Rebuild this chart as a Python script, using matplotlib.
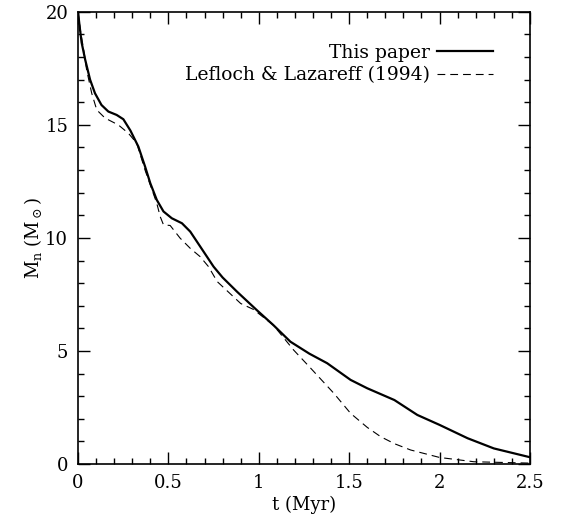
import matplotlib
matplotlib.use('Agg')
import matplotlib.pyplot as plt
from matplotlib.ticker import MultipleLocator

plt.rcParams['font.family'] = 'DejaVu Serif'
plt.rcParams['mathtext.fontset'] = 'dejavuserif'

# this paper (solid)
t_paper = [0, 0.01, 0.02, 0.04, 0.067, 0.094, 0.13, 0.168, 0.214, 0.251, 0.29,
           0.334, 0.371, 0.4, 0.436, 0.473, 0.519, 0.575, 0.621, 0.676, 0.75,
           0.8, 0.88, 0.99, 1.08, 1.175, 1.28, 1.378, 1.45, 1.508, 1.6, 1.75,
           1.877, 2.0, 2.155, 2.3, 2.5]
m_paper = [20, 19.3, 18.65, 17.88, 17.0, 16.4, 15.88, 15.59, 15.44, 15.25,
           14.75, 14.04, 13.16, 12.42, 11.68, 11.17, 10.87, 10.65, 10.28, 9.62,
           8.73, 8.25, 7.62, 6.8, 6.15, 5.41, 4.88, 4.46, 4.05, 3.72, 3.35,
           2.83, 2.17, 1.73, 1.14, 0.69, 0.3]

# Lefloch & Lazareff (1994) (dashed)
t_ll = [0, 0.015, 0.03, 0.048, 0.076, 0.104, 0.15, 0.223, 0.279, 0.325, 0.371,
        0.436, 0.455, 0.473, 0.51, 0.565, 0.621, 0.676, 0.722, 0.77, 0.9,
        0.97, 1.08, 1.193, 1.28, 1.415, 1.508, 1.6, 1.674, 1.75, 1.84, 2.0,
        2.19, 2.5]
m_ll = [20, 19.1, 18.4, 17.43, 16.4, 15.66, 15.3, 15.0, 14.63, 14.19, 13.0,
        11.53, 10.94, 10.58, 10.55, 9.99, 9.54, 9.17, 8.73, 8.07, 7.1, 6.84,
        6.15, 5.04, 4.3, 3.13, 2.24, 1.62, 1.21, 0.9, 0.62, 0.29, 0.1, 0.04]

fig = plt.figure(figsize=(5.65, 5.15), dpi=100)
ax = fig.add_axes([0.138, 0.099, 0.8, 0.878])

ax.plot(t_paper, m_paper, c='black', lw=1.6, label='This paper')
ax.plot(t_ll, m_ll, c='black', lw=0.8, ls=(0, (7, 4.5)),
        label='Lefloch & Lazareff (1994)')

ax.set_xlim(0, 2.5)
ax.set_ylim(0, 20)
ax.xaxis.set_major_locator(MultipleLocator(0.5))
ax.xaxis.set_minor_locator(MultipleLocator(0.1))
ax.yaxis.set_major_locator(MultipleLocator(5))
ax.yaxis.set_minor_locator(MultipleLocator(1))
ax.set_xticks([0, 0.5, 1, 1.5, 2, 2.5], ['0', '0.5', '1', '1.5', '2', '2.5'])
ax.tick_params(which='both', direction='in', top=True, right=True,
               labelsize=13, width=1, pad=7)
ax.tick_params(which='major', length=8.5)
ax.tick_params(which='minor', length=4)
for s in ax.spines.values():
    s.set_linewidth(1.2)

ax.set_xlabel('t (Myr)', fontsize=13, labelpad=3)
ax.set_ylabel(r'M$_\mathrm{n}$ (M$_\odot$)', fontsize=13, labelpad=1)

ax.legend(loc='upper right', bbox_to_anchor=(0.955, 0.967), frameon=False,
          markerfirst=False, fontsize=13.5, handlelength=3.0,
          handletextpad=0.35, labelspacing=0.25)

fig.savefig('out.png')
